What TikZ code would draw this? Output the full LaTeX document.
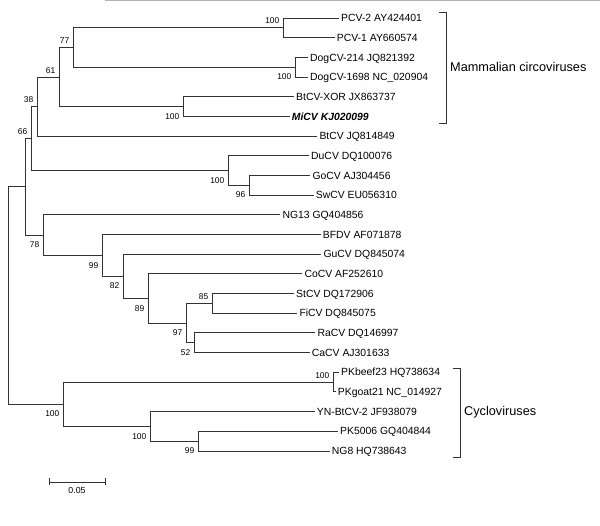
\documentclass[tikz,border=0pt]{standalone}
\usepackage{fontspec}
\setmainfont{Liberation Sans}
\usepackage{tikz}

\begin{document}
\begin{tikzpicture}[x=1pt,y=-1pt,
  branch/.style={draw=black!80, line width=0.9pt},
  leaf/.style={anchor=west, inner xsep=2pt, inner ysep=0pt, text height=7.4pt, text depth=0pt, font=\fontsize{10.4}{12}\selectfont},
  bsa/.style={anchor=south east, inner sep=0pt, xshift=-3.5pt, yshift=3.7pt, font=\fontsize{8.4}{9}\selectfont},
  bsb/.style={anchor=north east, inner sep=0pt, xshift=-3.5pt, yshift=-6.6pt, font=\fontsize{8.4}{9}\selectfont},
  group/.style={anchor=west, inner sep=0pt, font=\fontsize{12.7}{14}\selectfont}]

\useasboundingbox (0,0) rectangle (600,526);

% top rule
\draw[black!30, line width=1.4pt] (105,0.7) -- (600,0.7);

% Leaves
\node[leaf] (pcv2)   at (339,18.0)  {PCV-2 AY424401};
\node[leaf] (pcv1)   at (334.7,37.7) {PCV-1 AY660574};
\node[leaf] (dog214) at (308,57.4)  {DogCV-214 JQ821392};
\node[leaf] (dog1698) at (308,77.0) {DogCV-1698 NC\_020904};
\node[leaf] (btxor)  at (294,96.7)  {BtCV-XOR JX863737};
\node[leaf] (micv)   at (289.7,116.4) {\bfseries\itshape MiCV KJ020099};
\node[leaf] (btcv)   at (317.3,136.1) {BtCV JQ814849};
\node[leaf] (ducv)   at (309,155.8) {DuCV DQ100076};
\node[leaf] (gocv)   at (310.3,175.4) {GoCV AJ304456};
\node[leaf] (swcv)   at (313.7,195.1) {SwCV EU056310};
\node[leaf] (ng13)   at (280.3,214.8) {NG13 GQ404856};
\node[leaf] (bfdv)   at (320.7,234.5) {BFDV AF071878};
\node[leaf] (gucv)   at (321.3,254.2) {GuCV DQ845074};
\node[leaf] (cocv)   at (302.3,273.8) {CoCV AF252610};
\node[leaf] (stcv)   at (294,293.5) {StCV DQ172906};
\node[leaf] (ficv)   at (297.3,313.2) {FiCV DQ845075};
\node[leaf] (racv)   at (315.3,332.9) {RaCV DQ146997};
\node[leaf] (cacv)   at (309.7,352.6) {CaCV AJ301633};
\node[leaf] (pkbeef) at (339,372.2) {PKbeef23 HQ738634};
\node[leaf] (pkgoat) at (335.7,391.9) {PKgoat21 NC\_014927};
\node[leaf] (ynbt)   at (314.7,411.6) {YN-BtCV-2 JF938079};
\node[leaf] (pk5006) at (338,431.3) {PK5006 GQ404844};
\node[leaf] (ng8)    at (329.7,451.0) {NG8 HQ738643};

% Internal nodes
\coordinate (npcv) at (283,27.85);
\coordinate (ndog) at (295,67.2);
\coordinate (n77)  at (73,47.5);
\coordinate (nxor) at (183,106.55);
\coordinate (n61)  at (59,77.0);
\coordinate (n38)  at (37,106.55);
\coordinate (ngo)  at (249,185.25);
\coordinate (ndu)  at (228,170.5);
\coordinate (n66)  at (31,138.5);
\coordinate (n85)  at (212,303.35);
\coordinate (n52)  at (194,342.75);
\coordinate (n97)  at (186,323.05);
\coordinate (n89)  at (148,298.4);
\coordinate (n82)  at (123,276.3);
\coordinate (n99)  at (102,255.4);
\coordinate (n78)  at (43,235.1);
\coordinate (ncirc) at (25,186.8);
\coordinate (npk)  at (333,382.05);
\coordinate (npk2) at (198,441.15);
\coordinate (nyn)  at (150,426.4);
\coordinate (ncyc) at (63,404.2);
\coordinate (root) at (8,295.5);

% Branches
\draw[branch] (root) |- (ncirc);
\draw[branch] (root) |- (ncyc);
\draw[branch] (ncirc) |- (n66);
\draw[branch] (ncirc) |- (n78);
\draw[branch] (n66) |- (n38);
\draw[branch] (n66) |- (ndu);
\draw[branch] (n38) |- (n61);
\draw[branch] (n38) |- (btcv.west);
\draw[branch] (n61) |- (n77);
\draw[branch] (n61) |- (nxor);
\draw[branch] (n77) |- (npcv);
\draw[branch] (n77) |- (ndog);
\draw[branch] (npcv) |- (pcv2.west);
\draw[branch] (npcv) |- (pcv1.west);
\draw[branch] (ndog) |- (dog214.west);
\draw[branch] (ndog) |- (dog1698.west);
\draw[branch] (nxor) |- (btxor.west);
\draw[branch] (nxor) |- (micv.west);
\draw[branch] (ndu) |- (ducv.west);
\draw[branch] (ndu) |- (ngo);
\draw[branch] (ngo) |- (gocv.west);
\draw[branch] (ngo) |- (swcv.west);
\draw[branch] (n78) |- (ng13.west);
\draw[branch] (n78) |- (n99);
\draw[branch] (n99) |- (bfdv.west);
\draw[branch] (n99) |- (n82);
\draw[branch] (n82) |- (gucv.west);
\draw[branch] (n82) |- (n89);
\draw[branch] (n89) |- (cocv.west);
\draw[branch] (n89) |- (n97);
\draw[branch] (n97) |- (n85);
\draw[branch] (n97) |- (n52);
\draw[branch] (n85) |- (stcv.west);
\draw[branch] (n85) |- (ficv.west);
\draw[branch] (n52) |- (racv.west);
\draw[branch] (n52) |- (cacv.west);
\draw[branch] (ncyc) |- (npk);
\draw[branch] (ncyc) |- (nyn);
\draw[branch] (npk) |- (pkbeef.west);
\draw[branch] (npk) |- (pkgoat.west);
\draw[branch] (nyn) |- (ynbt.west);
\draw[branch] (nyn) |- (npk2);
\draw[branch] (npk2) |- (pk5006.west);
\draw[branch] (npk2) |- (ng8.west);

% Bootstrap values
\node[bsa] (bpcv) at (npcv) {100};
\node[bsb] (bdog) at (ndog) {100};
\node[bsa] (b77)  at (n77)  {77};
\node[bsb] (bxor) at (nxor) {100};
\node[bsa] (b61)  at (n61)  {61};
\node[bsa] (b38)  at (n38)  {38};
\node[bsa] (b66)  at (n66)  {66};
\node[bsb] (bdu)  at (ndu)  {100};
\node[bsb] (bgo)  at (ngo)  {96};
\node[bsb] (b78)  at (n78)  {78};
\node[bsb] (b99)  at (n99)  {99};
\node[bsb] (b82)  at (n82)  {82};
\node[bsb] (b89)  at (n89)  {89};
\node[bsb] (b97)  at (n97)  {97};
\node[bsa] (b85)  at (n85)  {85};
\node[bsb] (b52)  at (n52)  {52};
\node[bsb] (bcyc) at (ncyc) {100};
\node[bsa] (bpk)  at (npk)  {100};
\node[bsb] (byn)  at (nyn)  {100};
\node[bsb] (bpk2) at (npk2) {99};

% Group brackets
\coordinate (mamtop) at (439,12.5);
\coordinate (mambot) at (439,123);
\draw[branch] (mamtop) -- ++(7,0) |- (mambot);
\node[group] (mam) at (450,67) {Mammalian circoviruses};

\coordinate (cyctop) at (453,368);
\coordinate (cycbot) at (453,457);
\draw[branch] (cyctop) -- ++(7,0) |- (cycbot);
\node[group] (cyc) at (464,412) {Cycloviruses};

% Scale bar
\coordinate (sbl) at (49,482);
\coordinate (sbr) at (105,482);
\draw[branch] (sbl) -- (sbr);
\draw[branch] ([yshift=3.5pt]sbl) -- ([yshift=-3.5pt]sbl);
\draw[branch] ([yshift=3.5pt]sbr) -- ([yshift=-3.5pt]sbr);
\node[font=\fontsize{8.8}{10}\selectfont, inner sep=0pt] (sblab) at (77,490) {0.05};

\end{tikzpicture}
\end{document}
